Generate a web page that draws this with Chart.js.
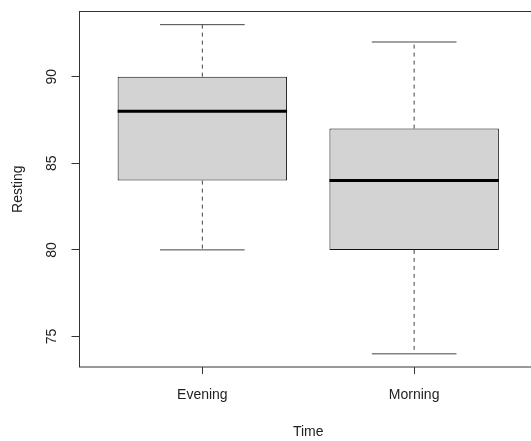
<!DOCTYPE html>
<html>
<head>
<meta charset="utf-8">
<script src="https://cdn.jsdelivr.net/npm/chart.js@4"></script>
<style>
  body { margin: 0; background: #fff; overflow: hidden; }
  #wrap { width: 531px; height: 441px; overflow: hidden; }
</style>
</head>
<body>
<div id="wrap"><canvas id="box" width="560" height="441"></canvas></div>
<script>
// data
const timeLabels = ['Evening', 'Morning'];
const whiskerLow = [80, 74];
const quartile1 = [84, 80];
const medians = [88, 84];
const quartile3 = [90, 87];
const whiskerHigh = [93, 92];
const yTicks = [75, 80, 85, 90];

// R style axis ranges (4% extension)
const lo = Math.min(...whiskerLow), hi = Math.max(...whiskerHigh);
const yPad = (hi - lo) * 0.04;
const xPad = timeLabels.length * 0.04;

Chart.defaults.font.family = 'Liberation Sans, Arial, sans-serif';
Chart.defaults.font.size = 14;
Chart.defaults.color = '#222';

// whiskers, caps, medians, frame and rotated y labels
const boxParts = {
    id: 'boxParts',
    afterDatasetsDraw(chart) {
        const ctx = chart.ctx;
        const y = chart.scales.y;
        const bars = chart.getDatasetMeta(0).data;
        ctx.save();
        bars.forEach((bar, i) => {
            const cx = bar.x;
            const half = bar.width / 2;
            // dashed whiskers
            ctx.strokeStyle = '#444';
            ctx.lineWidth = 1;
            ctx.setLineDash([4, 4]);
            ctx.beginPath();
            ctx.moveTo(cx, y.getPixelForValue(quartile3[i]));
            ctx.lineTo(cx, y.getPixelForValue(whiskerHigh[i]));
            ctx.moveTo(cx, y.getPixelForValue(quartile1[i]));
            ctx.lineTo(cx, y.getPixelForValue(whiskerLow[i]));
            ctx.stroke();
            // caps
            ctx.setLineDash([]);
            ctx.beginPath();
            ctx.moveTo(cx - half / 2, y.getPixelForValue(whiskerHigh[i]));
            ctx.lineTo(cx + half / 2, y.getPixelForValue(whiskerHigh[i]));
            ctx.moveTo(cx - half / 2, y.getPixelForValue(whiskerLow[i]));
            ctx.lineTo(cx + half / 2, y.getPixelForValue(whiskerLow[i]));
            ctx.stroke();
            // median
            ctx.strokeStyle = '#000';
            ctx.lineWidth = 3;
            ctx.beginPath();
            ctx.moveTo(cx - half, y.getPixelForValue(medians[i]));
            ctx.lineTo(cx + half, y.getPixelForValue(medians[i]));
            ctx.stroke();
        });
        ctx.restore();
    },
    afterDraw(chart) {
        const ctx = chart.ctx;
        const a = chart.chartArea;
        const y = chart.scales.y;
        ctx.save();
        ctx.strokeStyle = '#333';
        ctx.lineWidth = 1;
        ctx.strokeRect(a.left, a.top, a.right - a.left, a.bottom - a.top);
        ctx.fillStyle = '#222';
        ctx.font = '14px Liberation Sans, Arial, sans-serif';
        ctx.textAlign = 'center';
        ctx.textBaseline = 'middle';
        yTicks.forEach(v => {
            ctx.save();
            ctx.translate(a.left - 27, y.getPixelForValue(v));
            ctx.rotate(-Math.PI / 2);
            ctx.fillText(String(v), 0, 0);
            ctx.restore();
        });
        ctx.restore();
    }
};

new Chart(document.getElementById('box'), {
    type: 'bar',
    data: {
        datasets: [{
            data: timeLabels.map((t, i) => ({ x: i + 1, y: [quartile1[i], quartile3[i]] })),
            backgroundColor: '#d3d3d3',
            borderColor: '#111',
            borderWidth: 1,
            borderSkipped: false,
            barPercentage: 0.8,
            categoryPercentage: 1
        }]
    },
    options: {
        responsive: false,
        animation: false,
        devicePixelRatio: 1,
        layout: { padding: { top: 11.5, right: 23, left: 0, bottom: 0 } },
        plugins: { legend: { display: false }, tooltip: { enabled: false } },
        scales: {
            x: {
                type: 'linear',
                offset: false,
                min: 0.5 - xPad,
                max: timeLabels.length + 0.5 + xPad,
                afterBuildTicks: s => { s.ticks = timeLabels.map((t, i) => ({ value: i + 1 })); },
                afterFit: s => { s.height = 74; },
                ticks: {
                    padding: 13,
                    maxRotation: 0,
                    callback: v => timeLabels[v - 1]
                },
                grid: { display: true, offset: false, drawOnChartArea: false, tickLength: 7, color: '#333' },
                border: { display: false },
                title: { display: true, text: 'Time', padding: { top: 0, bottom: 0 } }
            },
            y: {
                min: lo - yPad,
                max: hi + yPad,
                afterBuildTicks: s => { s.ticks = yTicks.map(v => ({ value: v })); },
                afterFit: s => { s.width = 79.5; },
                ticks: { display: false },
                grid: { display: true, drawOnChartArea: false, tickLength: 8, color: '#333' },
                border: { display: false },
                title: { display: true, text: 'Resting', padding: { top: 10, bottom: 0 } }
            }
        }
    },
    plugins: [boxParts]
});
</script>
</body>
</html>
